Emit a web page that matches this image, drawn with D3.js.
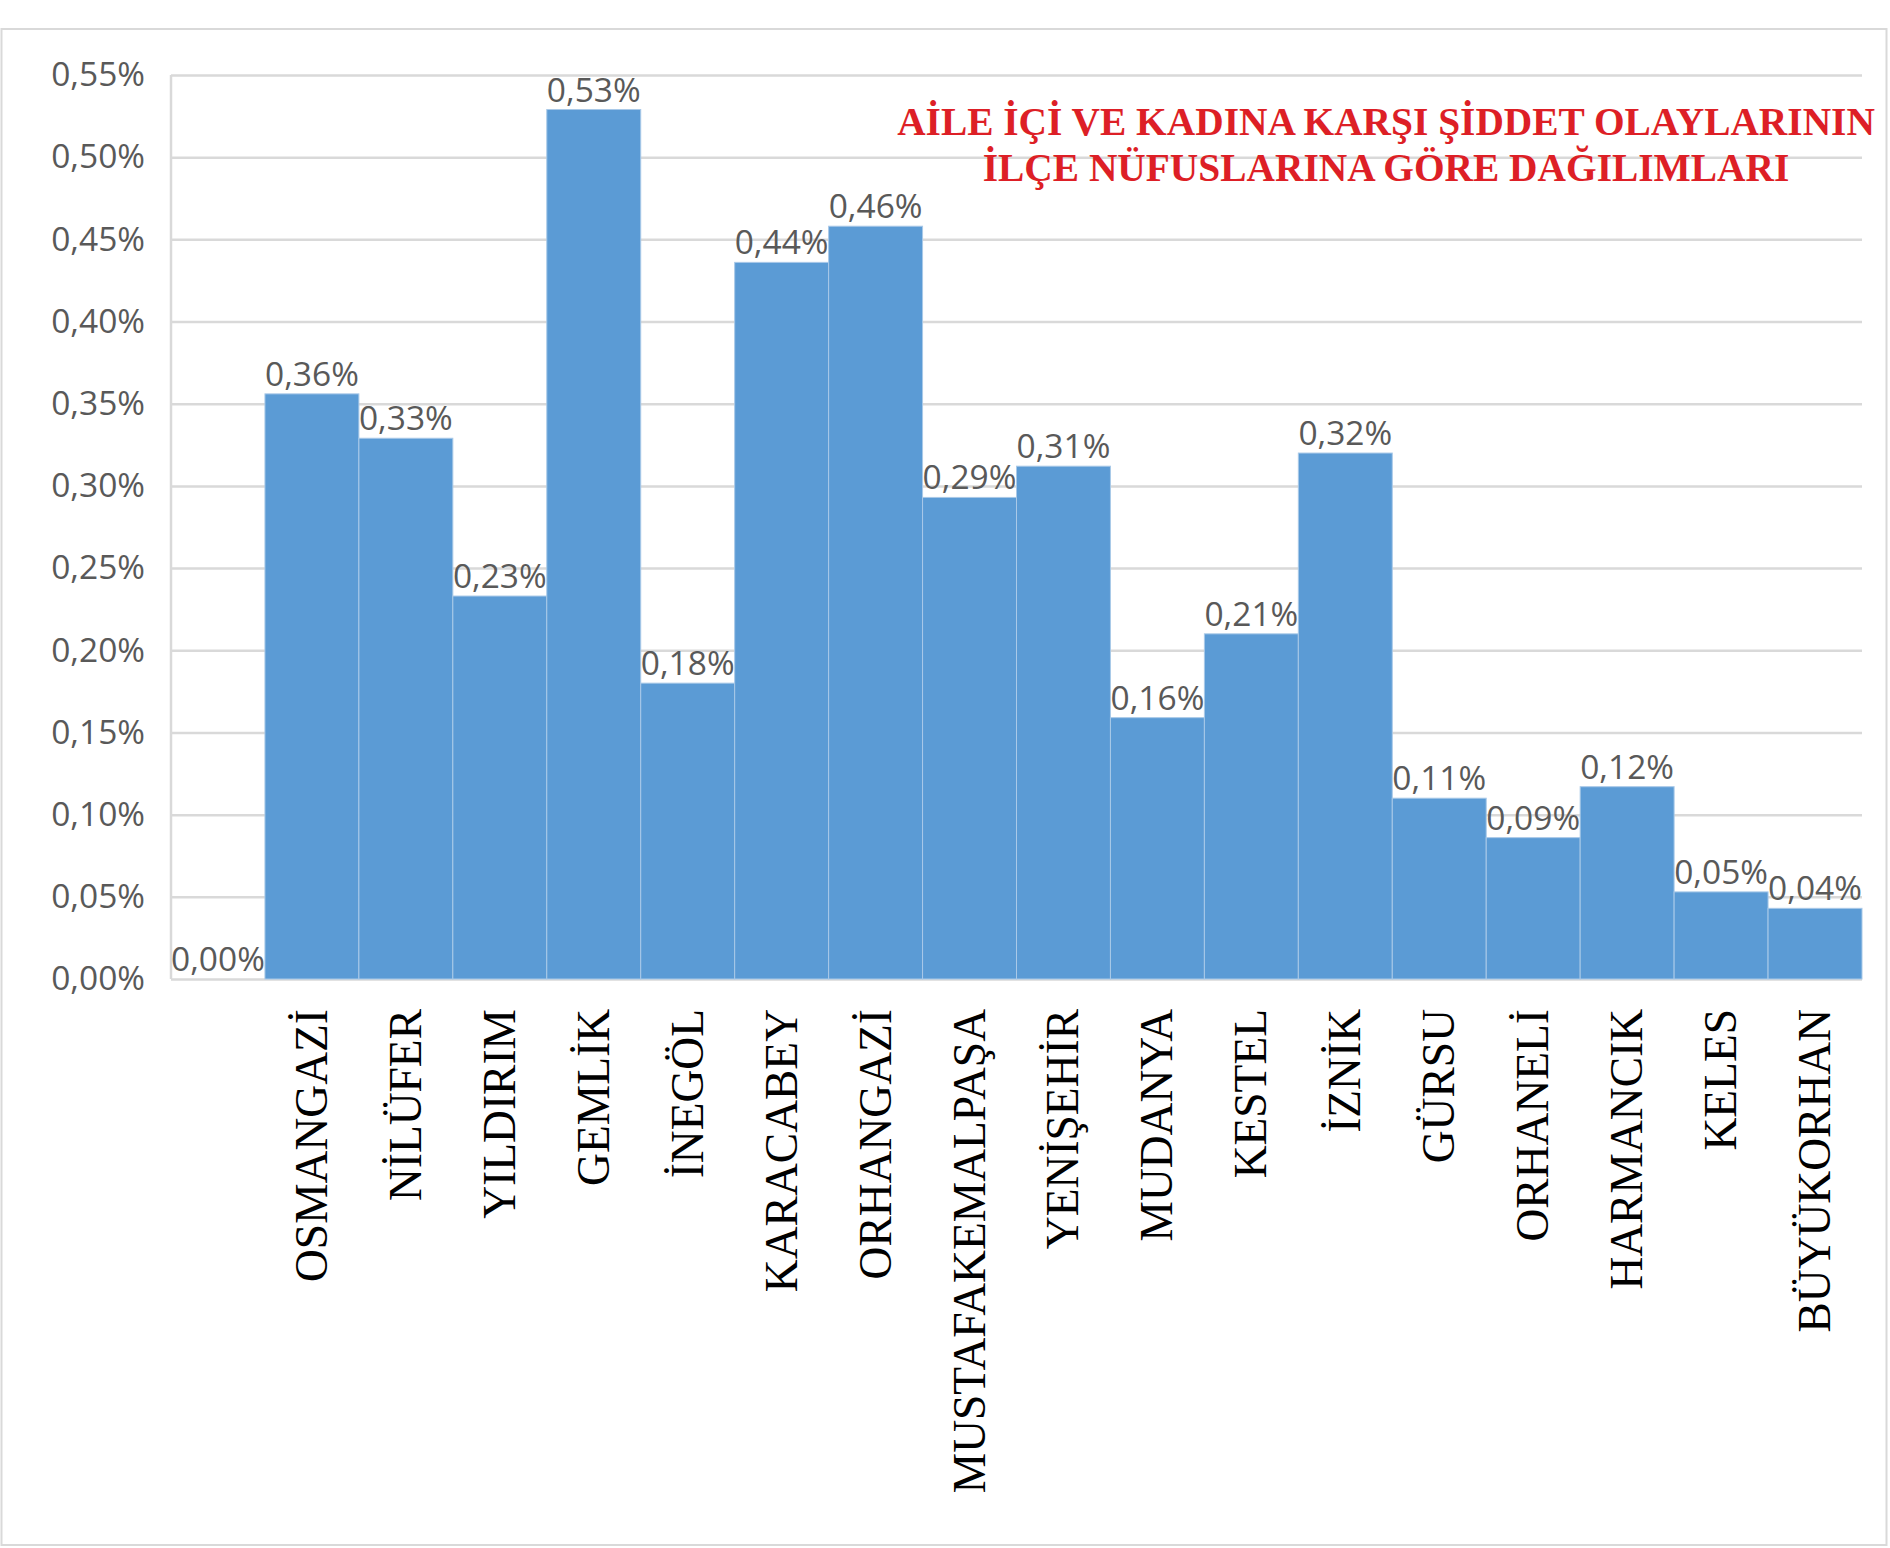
<!DOCTYPE html>
<html>
<head>
<meta charset="utf-8">
<title>Aile içi ve kadına karşı şiddet</title>
<script src="https://cdn.jsdelivr.net/npm/d3@7"></script>
<style>
    body { margin: 0; background: #fff; }
    .tick text { font-family: "Open Sans", sans-serif; }
</style>
</head>
<body>
<div id="vis-bar"></div>
<script>
// District names (first slot is an empty category shown with 0,00%)
const districts = [
    "", "OSMANGAZİ", "NİLÜFER", "YILDIRIM", "GEMLİK", "İNEGÖL", "KARACABEY",
    "ORHANGAZİ", "MUSTAFAKEMALPAŞA", "YENİŞEHİR", "MUDANYA", "KESTEL", "İZNİK",
    "GÜRSU", "ORHANELİ", "HARMANCIK", "KELES", "BÜYÜKORHAN"
];

// Share of incidents relative to district population, in percent
const rates = [
    0.000, 0.356, 0.329, 0.233, 0.529, 0.180, 0.436,
    0.458, 0.293, 0.312, 0.159, 0.210, 0.320,
    0.110, 0.086, 0.117, 0.053, 0.043
];

const yTicks = [0, 0.05, 0.10, 0.15, 0.20, 0.25, 0.30, 0.35, 0.40, 0.45, 0.50, 0.55];

const titleLines = [
    "AİLE İÇİ VE KADINA KARŞI ŞİDDET OLAYLARININ",
    "İLÇE NÜFUSLARINA GÖRE DAĞILIMLARI"
];

document.addEventListener("DOMContentLoaded", function () {
    const width = 1890;
    const height = 1548;
    const margin = { top: 75, right: 28, bottom: 569, left: 171 };

    const svg = d3.select("#vis-bar")
        .append("svg")
        .attr("width", width)
        .attr("height", height);

    // Light frame round the whole chart
    svg.append("rect")
        .attr("x", 1.5)
        .attr("y", 29)
        .attr("width", width - 5)
        .attr("height", height - 32)
        .attr("fill", "#fff")
        .attr("stroke", "#d9d9d9")
        .attr("stroke-width", 2);

    const x = d3.scaleBand()
        .domain(districts.map((d, i) => i))
        .range([margin.left, width - margin.right])
        .padding(0);

    const y = d3.scaleLinear()
        .domain([0, 0.55])
        .range([height - margin.bottom, margin.top]);

    const fmt = v => v.toFixed(2).replace(".", ",") + "%";

    // Gridlines and y tick labels
    const yAxis = svg.append("g")
        .attr("transform", `translate(${margin.left},0)`)
        .call(d3.axisLeft(y)
            .tickValues(yTicks)
            .tickSize(-(width - margin.left - margin.right))
            .tickPadding(26)
            .tickFormat(fmt));

    yAxis.select(".domain").remove();
    yAxis.selectAll(".tick line")
        .attr("stroke", "#d9d9d9")
        .attr("stroke-width", 2.5);
    yAxis.selectAll(".tick text")
        .attr("fill", "#595959")
        .attr("font-size", 33.5);

    // Vertical axis line
    svg.append("line")
        .attr("x1", margin.left)
        .attr("x2", margin.left)
        .attr("y1", y(0.55))
        .attr("y2", y(0))
        .attr("stroke", "#d9d9d9")
        .attr("stroke-width", 2.5);

    // Bars
    svg.append("g")
        .selectAll("rect")
        .data(rates)
        .enter()
        .append("rect")
        .attr("x", (d, i) => x(i))
        .attr("y", d => y(d))
        .attr("width", x.bandwidth())
        .attr("height", d => y(0) - y(d))
        .attr("fill", "#5b9bd5")
        .attr("stroke", "#a9c9e8")
        .attr("stroke-width", 1);

    // Value labels above bars
    svg.append("g")
        .selectAll("text")
        .data(rates)
        .enter()
        .append("text")
        .attr("x", (d, i) => x(i) + x.bandwidth() / 2)
        .attr("y", d => y(d) - 8)
        .attr("text-anchor", "middle")
        .attr("font-family", "'Open Sans', sans-serif")
        .attr("font-size", 33.5)
        .attr("fill", "#595959")
        .text(d => fmt(d));

    // Rotated district names under the axis
    svg.append("g")
        .selectAll("text")
        .data(districts)
        .enter()
        .append("text")
        .attr("transform", (d, i) =>
            `translate(${x(i) + x.bandwidth() / 2 + 15},${y(0) + 30}) rotate(-90)`)
        .attr("text-anchor", "end")
        .attr("font-family", "'Liberation Serif', 'Times New Roman', serif")
        .attr("font-size", 45.5)
        .attr("fill", "#000")
        .text(d => d);

    // Title in red, two lines
    svg.append("g")
        .selectAll("text")
        .data(titleLines)
        .enter()
        .append("text")
        .attr("x", 1386)
        .attr("y", (d, i) => 135 + i * 46)
        .attr("text-anchor", "middle")
        .attr("font-family", "'Liberation Serif', 'Times New Roman', serif")
        .attr("font-weight", "bold")
        .attr("font-size", 39.4)
        .attr("fill", "#dd1f26")
        .text(d => d);
});
</script>
</body>
</html>
